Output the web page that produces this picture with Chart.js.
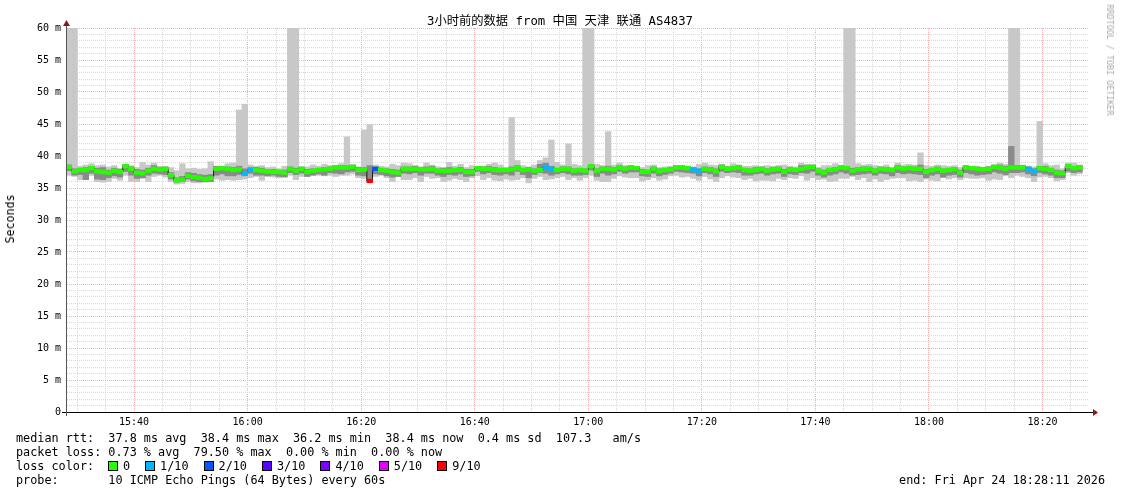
<!DOCTYPE html>
<html>
<head>
<meta charset="utf-8">
<script src="https://cdn.jsdelivr.net/npm/chart.js@4/dist/chart.umd.min.js"></script>
<style>
body{margin:0;background:#fff}
#wrap{position:relative;width:1121px;height:494px;font-family:"DejaVu Sans Mono",monospace;color:#000}
#wrap canvas{position:absolute;left:0;top:0}
#wrap .t{position:absolute;white-space:pre;font-size:11.8px;line-height:14px}
#title{position:absolute;left:560px;top:14px;transform:translateX(-50%);white-space:pre;font-family:"DejaVu Sans Mono","Noto Sans CJK SC",monospace;font-size:12.3px;line-height:14px}
#ylab{position:absolute;left:10px;top:219px;transform:translate(-50%,-50%) rotate(-90deg);font-size:11.6px;white-space:pre}
#rrd{position:absolute;left:1110px;top:60px;transform:translate(-50%,-50%) rotate(90deg);font-size:8.4px;color:#a8a8a8;white-space:pre}
#loss{position:absolute;left:108px;top:459px;display:flex;align-items:center;font-size:11.8px;line-height:14px}
#loss .sq{width:8px;height:8px;border:1px solid #000;margin-right:5px}
#loss .lb{margin-right:15px;white-space:pre}
</style>
</head>
<body>
<div id="wrap">
<canvas id="myChart" width="1121" height="494"></canvas>
<div id="title">3小时前的数据 from 中国 天津 联通 AS4837</div>
<div id="ylab">Seconds</div>
<div id="rrd">RRDTOOL / TOBI OETIKER</div>
<div class="t" style="left:16px;top:431px">median rtt:  37.8 ms avg  38.4 ms max  36.2 ms min  38.4 ms now  0.4 ms sd  107.3   am/s</div>
<div class="t" style="left:16px;top:445px">packet loss: 0.73 % avg  79.50 % max  0.00 % min  0.00 % now</div>
<div class="t" style="left:16px;top:459px">loss color:</div>
<div id="loss"></div>
<div class="t" style="left:16px;top:473px">probe:       10 ICMP Echo Pings (64 Bytes) every 60s</div>
<div class="t" style="right:16px;top:473px">end: Fri Apr 24 18:28:11 2026</div>
</div>
<script>
// minutes after 15:00, window is 15:28:11 .. 18:28:11
let startMin = 28 + 11/60
let endMin = 208 + 11/60
let firstStep = 28

// median rtt per 60s step (ms)
let med = [
38.3,37.6,37.8,37.8,38.1,37.6,37.5,37.4,37.7,37.5,
38.4,38.0,37.4,37.3,37.7,38.0,37.9,38.0,37.0,36.2,
36.3,36.9,36.7,36.6,36.4,36.5,38.0,38.1,38.0,37.8,
37.9,37.3,37.8,37.8,37.7,37.6,37.5,37.5,37.4,38.0,
37.7,38.0,37.5,37.7,37.8,37.9,38.0,38.2,38.2,38.2,
38.3,37.8,37.9,36.1,38.0,37.8,37.7,37.5,37.4,38.0,
38.0,38.0,37.9,37.9,38.0,37.7,37.7,37.7,37.8,37.8,
37.5,37.5,38.1,38.0,38.0,37.8,37.8,37.8,37.9,38.1,
37.8,37.9,37.7,37.8,38.3,38.0,37.8,38.0,38.0,37.7,
37.8,37.7,38.4,37.7,38.0,38.0,37.9,38.2,38.0,38.2,
38.1,37.5,37.5,38.0,37.6,37.8,37.9,38.2,38.2,38.1,
37.9,37.7,38.0,37.9,37.6,38.3,38.0,38.1,38.2,37.8,
37.7,37.8,38.0,37.7,37.9,38.0,37.5,37.9,37.8,38.0,
38.2,38.3,37.7,37.4,37.8,37.9,38.2,38.1,37.7,37.9,
38.0,38.0,37.7,38.0,37.9,37.8,38.2,38.0,38.1,38.0,
38.0,37.5,37.8,38.0,37.7,37.8,37.9,37.4,38.2,38.1,
38.0,37.9,38.0,38.3,38.2,38.0,38.2,38.2,38.2,38.0,
37.7,38.1,38.0,37.8,37.4,37.3,38.4,38.1,38.2]

// lost pings out of 10 per step
let loss = [
0,0,0,0,0,0,0,0,0,0, 0,0,0,0,0,0,0,0,0,0, 0,0,0,0,0,0,0,0,0,0,
0,1,1,0,0,0,0,0,0,0, 0,0,0,0,0,0,0,0,0,0, 0,0,0,9,2,0,0,0,0,0,
0,0,0,0,0,0,0,0,0,0, 0,0,0,0,0,0,0,0,0,0, 0,0,0,0,1,1,0,0,0,0,
0,0,0,0,0,0,0,0,0,0, 0,0,0,0,0,0,0,0,0,0, 1,1,0,0,0,0,0,0,0,0,
0,0,0,0,0,0,0,0,0,0, 0,0,0,0,0,0,0,0,0,0, 0,0,0,0,0,0,0,0,0,0,
0,0,0,0,0,0,0,0,0,0, 0,0,0,0,0,0,0,0,0,1, 1,0,0,0,0,0,0,0,0]

// smoke: fastest / slowest ping (outer band)
let hi = [
64,64,38.4,38.6,38.8,38.5,38.6,38.3,38.5,38.1,
38.7,38.5,38.2,39.0,38.6,38.9,38.4,38.3,38.2,37.7,
38.8,38.0,38.1,37.9,38.0,39.1,38.4,38.3,38.8,38.9,
47.2,48.1,38.6,38.4,38.5,38.2,38.3,38.0,38.4,64,
64,38.2,38.3,38.6,38.4,38.7,38.5,38.4,38.8,43.0,
38.6,38.3,44.1,44.9,38.6,38.4,38.3,38.7,38.5,38.9,
38.8,38.5,38.3,38.9,38.6,38.3,38.2,39.0,38.4,38.7,
38.2,38.5,38.3,38.4,38.7,38.9,38.6,38.2,46.0,39.3,
38.5,38.3,38.6,39.3,39.7,42.5,39.0,38.6,41.9,38.7,
38.5,64,64,38.7,38.5,43.8,38.6,38.9,38.5,38.3,
38.4,38.2,38.5,38.6,38.2,38.3,38.4,38.4,38.3,38.4,
38.3,38.7,38.9,38.6,38.5,38.7,38.4,38.8,38.6,38.4,
38.4,38.5,38.3,38.5,38.4,38.5,38.6,38.4,38.3,38.9,
38.7,38.6,38.2,38.5,38.5,38.8,38.4,64,64,38.8,
38.6,38.7,38.5,38.3,38.6,38.2,38.9,38.6,38.7,38.6,
40.5,38.5,38.4,38.6,38.5,38.4,38.5,38.2,38.4,38.3,
38.3,38.1,38.4,38.5,38.9,38.7,64,64,38.6,38.4,
38.3,45.4,38.8,38.5,38.6,38.0,38.9,38.9,38.6]
let lo = [
37.0,36.8,36.3,36.5,37.0,36.0,35.9,36.0,36.5,36.2,
37.0,36.0,36.0,36.5,36.0,36.8,37.0,36.7,36.0,35.6,
35.7,36.0,35.8,35.8,35.9,36.0,36.4,36.2,36.3,36.2,
36.3,36.4,36.6,36.8,36.2,36.8,36.7,36.6,37.0,37.0,
36.3,36.8,36.8,37.0,37.0,36.9,37.0,36.8,37.0,37.0,
37.2,36.6,36.5,36.1,36.8,37.0,36.6,36.0,36.8,36.3,
36.3,36.6,36.0,36.8,36.5,36.6,36.0,36.2,36.5,36.3,
36.0,36.6,36.9,36.3,36.6,36.2,36.1,36.4,36.2,36.3,
36.6,35.8,36.5,36.8,36.3,36.4,36.6,36.8,36.3,36.6,
36.2,36.6,37.0,36.2,36.0,36.0,36.5,36.9,36.7,36.6,
36.6,36.1,36.3,36.6,36.2,36.4,36.9,37.0,36.7,36.8,
36.5,36.2,36.8,36.4,36.0,36.6,36.9,36.7,36.6,36.3,
36.5,36.1,36.2,36.2,36.1,36.5,36.3,36.6,36.5,36.9,
36.2,36.6,36.3,36.4,36.0,36.1,36.5,36.5,36.8,36.3,
36.6,36.0,36.4,36.0,36.3,36.5,36.6,36.6,36.1,36.2,
36.0,36.4,36.2,36.1,36.6,36.4,36.6,36.3,36.6,36.5,
36.5,36.6,36.2,36.4,36.3,36.9,36.6,37.0,36.8,36.6,
36.0,36.7,36.8,36.6,36.1,36.3,37.4,37.0,37.2]

// smoke: middle pings (inner band)
let ihi = [
38.6,38.0,38.1,38.2,38.4,38.1,38.2,37.8,38.1,37.9,
38.7,38.3,37.9,37.8,38.1,38.5,38.2,38.3,37.4,36.6,
36.8,37.4,37.3,37.1,37.0,37.1,38.4,38.4,38.3,38.2,
38.4,38.0,38.2,38.2,38.1,37.9,37.9,37.8,37.8,38.3,
38.1,38.3,37.9,38.0,38.1,38.2,38.3,38.5,38.5,38.5,
38.6,38.2,38.2,38.5,38.3,38.1,38.0,37.9,37.8,38.3,
38.3,38.4,38.2,38.3,38.4,38.0,38.1,38.2,38.1,38.2,
37.9,37.9,38.4,38.3,38.4,38.2,38.1,38.1,38.3,38.5,
38.1,38.2,38.0,38.7,38.9,38.4,38.1,38.3,38.3,38.0,
38.1,38.0,38.7,38.0,38.3,38.4,38.2,38.5,38.3,38.5,
38.4,37.9,37.8,38.3,38.0,38.1,38.2,38.5,38.5,38.4,
38.2,38.0,38.3,38.2,38.0,38.6,38.3,38.4,38.5,38.1,
38.0,38.2,38.3,38.0,38.2,38.3,37.9,38.2,38.1,38.5,
38.5,38.6,38.0,37.8,38.1,38.2,38.5,38.4,38.1,38.2,
38.3,38.3,38.0,38.3,38.2,38.1,38.5,38.3,38.4,38.3,
38.6,37.9,38.1,38.3,38.0,38.1,38.2,37.8,38.5,38.4,
38.3,38.2,38.3,38.6,38.6,38.4,41.5,38.5,38.5,38.3,
38.0,38.4,38.4,38.1,37.8,37.7,38.7,38.4,38.5]
let ilo = [
37.7,37.0,37.1,36.3,37.3,36.4,36.3,36.6,36.9,36.7,
37.6,37.0,36.5,36.6,37.0,37.3,37.2,37.1,36.4,35.9,
36.0,36.4,36.1,36.0,36.0,36.0,37.0,37.2,36.9,36.9,
37.1,36.9,37.3,37.0,37.0,36.9,37.0,36.8,36.7,37.4,
37.1,37.3,36.8,37.0,37.2,37.0,37.4,37.3,37.2,37.5,
37.6,37.0,36.9,36.1,37.2,37.1,36.9,36.7,36.8,37.3,
37.2,37.4,37.0,37.3,37.3,37.0,36.8,37.1,37.0,37.2,
36.8,36.9,37.6,37.2,37.4,37.1,37.0,37.2,37.0,37.6,
37.1,36.6,37.1,37.4,37.3,37.0,37.2,37.4,37.2,37.0,
37.0,37.1,37.8,36.8,37.3,37.0,37.2,37.6,37.3,37.5,
37.5,36.9,36.8,37.3,36.9,37.1,37.3,37.6,37.5,37.4,
37.3,36.9,37.4,37.2,36.8,37.6,37.4,37.5,37.4,37.0,
37.0,37.2,37.3,37.0,37.2,37.3,36.8,37.2,37.1,37.4,
37.3,37.6,37.0,36.7,37.0,37.2,37.5,37.3,37.0,37.1,
37.2,37.3,37.0,37.3,37.2,36.9,37.4,37.2,37.3,37.2,
37.1,36.6,37.0,37.2,36.7,37.0,37.1,36.7,37.4,37.2,
37.0,37.1,37.2,37.5,37.3,37.1,37.4,37.4,37.5,37.2,
36.9,37.4,37.2,37.0,36.6,36.6,37.6,37.4,37.5]

let lossLabels = ["0", "1/10", "2/10", "3/10", "4/10", "5/10", "9/10"]
let lossCounts = [0, 1, 2, 3, 4, 5, 9]
let lossColors = ["#26ff00", "#00b8ff", "#0059ff", "#5e00ff", "#7e00ff", "#dd00ff", "#ff0000"]

// vertical grid every 5 min, labelled every 20 min
let xGridMinutes = []
for (let m = 30; m <= 205; m += 5) xGridMinutes.push(m)

let lossBox = document.getElementById("loss")
lossLabels.forEach((l, i) => {
    lossBox.insertAdjacentHTML("beforeend",
        `<span class="sq" style="background:${lossColors[i]}"></span><span class="lb">${l}</span>`)
})

function colorOf(n) {
    return lossColors[lossCounts.indexOf(n)]
}
let xs = med.map((v, k) => firstStep + k + 0.5)

let major = "#f0b0b0"
let minor = "#d8d8d8"

let axisArrows = {
    id: "axisArrows",
    afterDatasetsDraw(chart) {
        let {ctx, chartArea: a} = chart
        ctx.save()
        ctx.strokeStyle = "#000"
        ctx.lineWidth = 1
        ctx.beginPath()
        ctx.moveTo(a.left - 5, a.bottom + 0.5)
        ctx.lineTo(a.right + 4, a.bottom + 0.5)
        ctx.stroke()
        ctx.strokeStyle = "#555"
        ctx.beginPath()
        ctx.moveTo(a.left - 0.5, a.bottom + 4)
        ctx.lineTo(a.left - 0.5, a.top - 3)
        ctx.stroke()
        ctx.fillStyle = "#8b1a1a"
        ctx.beginPath()
        ctx.moveTo(a.right + 4, a.bottom - 3)
        ctx.lineTo(a.right + 9, a.bottom + 0.5)
        ctx.lineTo(a.right + 4, a.bottom + 4)
        ctx.fill()
        ctx.beginPath()
        ctx.moveTo(a.left - 4, a.top - 2)
        ctx.lineTo(a.left - 0.5, a.top - 8)
        ctx.lineTo(a.left + 3, a.top - 2)
        ctx.fill()
        ctx.restore()
    }
}

let barOpts = {grouped: false, barPercentage: 1, categoryPercentage: 1, borderWidth: 0}

new Chart("myChart", {
    type: "bar",
    data: {
        datasets: [{
            ...barOpts,
            data: xs.map((x, k) => ({x: x, y: [lo[k], hi[k]]})),
            backgroundColor: "#c8c8c8",
            order: 4
        }, {
            ...barOpts,
            data: xs.map((x, k) => ({x: x, y: [ilo[k], ihi[k]]})),
            backgroundColor: "#8a8a8a",
            order: 3
        }, {
            type: "line",
            data: xs.map((x, k) => ({x: x, y: med[k]})),
            stepped: "middle",
            borderColor: "#1c1c1c",
            borderWidth: 1,
            pointRadius: 0,
            order: 2
        }, {
            ...barOpts,
            data: xs.map((x, k) => ({x: x, y: [med[k] - 0.28, med[k] + 0.28]})),
            backgroundColor: loss.map(colorOf),
            order: 1
        }]
    },
    options: {
        responsive: false,
        devicePixelRatio: 1,
        animation: false,
        layout: {padding: {left: 0, top: 28, right: 32, bottom: 0}},
        plugins: {legend: {display: false}, tooltip: {enabled: false}},
        scales: {
            x: {
                type: "linear",
                offset: false,
                min: startMin,
                max: endMin,
                afterFit: s => { s.height = 82 },
                afterBuildTicks: s => { s.ticks = xGridMinutes.map(m => ({value: m})) },
                ticks: {
                    stepSize: 5,
                    autoSkip: false,
                    maxRotation: 0,
                    padding: 4,
                    color: "#000",
                    font: {family: "DejaVu Sans Mono", size: 10},
                    callback: v => {
                        if (v % 20 !== 0) return ""
                        let h = 15 + Math.floor(v / 60)
                        let m = v % 60
                        return h + ":" + String(m).padStart(2, "0")
                    }
                },
                grid: {
                    offset: false,
                    drawTicks: false,
                    color: c => c.tick && c.tick.value % 20 === 0 ? major : minor
                },
                border: {display: false, dash: [1, 1]}
            },
            y: {
                min: 0,
                max: 60,
                afterFit: s => { s.width = 67 },
                ticks: {
                    stepSize: 1,
                    autoSkip: false,
                    padding: 6,
                    color: "#000",
                    font: {family: "DejaVu Sans Mono", size: 10},
                    callback: v => v % 5 !== 0 ? "" : (v === 0 ? "0" : v + " m")
                },
                grid: {
                    drawTicks: false,
                    color: c => c.tick && c.tick.value % 5 === 0 ? major : minor
                },
                border: {display: false, dash: [1, 1]}
            }
        }
    },
    plugins: [axisArrows]
});
</script>
</body>
</html>
